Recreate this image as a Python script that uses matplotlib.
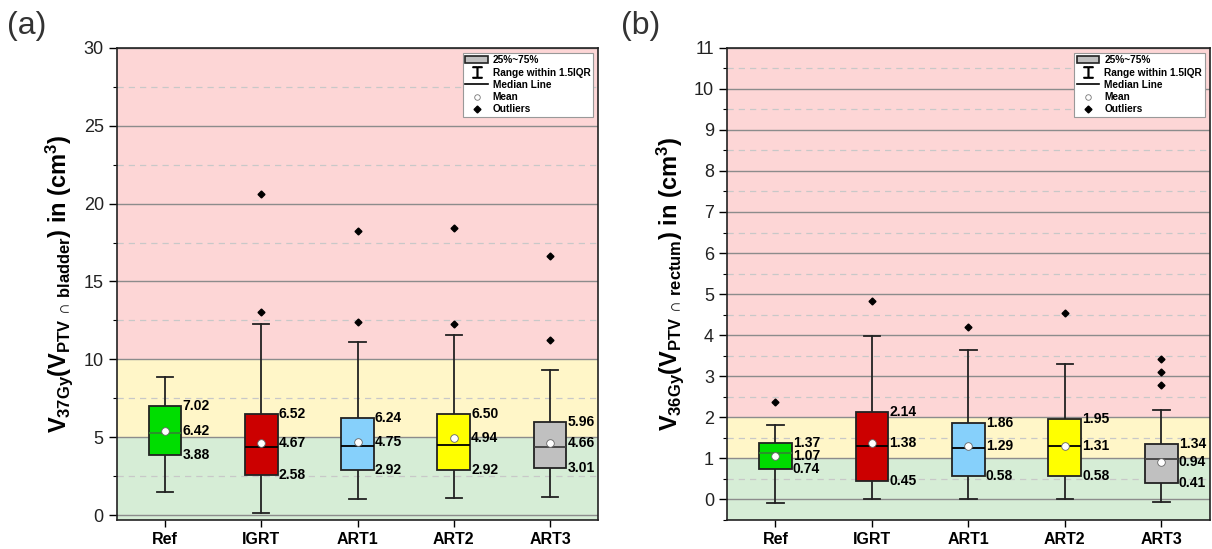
import matplotlib.pyplot as plt
from matplotlib.patches import Patch
from matplotlib.lines import Line2D
from matplotlib.ticker import MultipleLocator

plt.rcParams['font.family'] = ['Liberation Sans', 'DejaVu Sans']
plt.rcParams['mathtext.fontset'] = 'custom'
plt.rcParams['mathtext.rm'] = 'Liberation Sans:bold'
plt.rcParams['mathtext.it'] = 'Liberation Sans:bold'
plt.rcParams['mathtext.bf'] = 'Liberation Sans:bold'
plt.rcParams['mathtext.fallback'] = 'stixsans'

groups = ['Ref', 'IGRT', 'ART1', 'ART2', 'ART3']
box_colors = ['#00dd00', '#cc0000', '#86d0fb', '#ffff00', '#c0c0c0']
median_colors = ['#2e8b2e', '#000000', '#000000', '#000000', '#404040']

# panel (a): bladder, V37Gy
a_whislo = [1.50, 0.16, 1.06, 1.13, 1.18]
a_q1 = [3.88, 2.58, 2.92, 2.92, 3.01]
a_med = [5.28, 4.37, 4.46, 4.50, 4.35]
a_q3 = [7.02, 6.52, 6.24, 6.50, 5.96]
a_whishi = [8.90, 12.28, 11.13, 11.55, 9.35]
a_mean = [5.38, 4.64, 4.73, 4.94, 4.64]
a_fliers = [[], [13.05, 20.62], [12.37, 18.22], [12.28, 18.45], [11.25, 16.62]]
a_labels = [['7.02', '6.42', '3.88'], ['6.52', '4.67', '2.58'], ['6.24', '4.75', '2.92'],
            ['6.50', '4.94', '2.92'], ['5.96', '4.66', '3.01']]

# panel (b): rectum, V36Gy
b_whislo = [-0.10, 0.0, 0.0, 0.0, -0.06]
b_q1 = [0.74, 0.45, 0.58, 0.58, 0.41]
b_med = [1.13, 1.30, 1.26, 1.29, 0.99]
b_q3 = [1.37, 2.14, 1.86, 1.95, 1.34]
b_whishi = [1.82, 3.98, 3.65, 3.29, 2.18]
b_mean = [1.05, 1.38, 1.29, 1.31, 0.92]
b_fliers = [[2.36], [4.84], [4.19], [4.55], [2.78, 3.11, 3.41]]
b_labels = [['1.37', '1.07', '0.74'], ['2.14', '1.38', '0.45'], ['1.86', '1.29', '0.58'],
            ['1.95', '1.31', '0.58'], ['1.34', '0.94', '0.41']]

fig = plt.figure(figsize=(12.12, 5.49), dpi=100)
axa = fig.add_axes([0.0965, 0.053, 0.397, 0.860])
axb = fig.add_axes([0.600, 0.053, 0.398, 0.860])


def draw_panel(ax, whislo, q1, med, q3, whishi, mean, fliers, labels,
               ylim, bands, major, ylabel):
    # background zones
    ax.axhspan(ylim[0], bands[0], color='#d6edd6', zorder=0, lw=0)
    ax.axhspan(bands[0], bands[1], color='#fff6c8', zorder=0, lw=0)
    ax.axhspan(bands[1], ylim[1], color='#fdd6d6', zorder=0, lw=0)

    ax.yaxis.set_major_locator(MultipleLocator(major))
    ax.yaxis.set_minor_locator(MultipleLocator(major / 2))
    ax.grid(which='major', axis='y', color='#8c8c8c', lw=1.0, zorder=1)
    ax.grid(which='minor', axis='y', color='#c8c8c8', lw=0.9, ls=(0, (5, 4)), zorder=1)
    ax.set_axisbelow(True)

    stats = []
    for i in range(len(groups)):
        stats.append(dict(whislo=whislo[i], q1=q1[i], med=med[i], q3=q3[i],
                          whishi=whishi[i], mean=mean[i], fliers=fliers[i]))
    bp = ax.bxp(stats, positions=range(1, 6), widths=0.34, patch_artist=True,
                showmeans=True, capwidths=0.17,
                boxprops=dict(edgecolor='#222222', lw=1.3),
                whiskerprops=dict(color='#222222', lw=1.3),
                capprops=dict(color='#222222', lw=1.3),
                medianprops=dict(color='black', lw=1.3),
                meanprops=dict(marker='o', markerfacecolor='white', markeredgecolor='#666666',
                               markersize=5.5, markeredgewidth=0.6),
                flierprops=dict(marker='D', markerfacecolor='black', markeredgecolor='black',
                                markersize=3.5))
    for i, box in enumerate(bp['boxes']):
        box.set_facecolor(box_colors[i])
        box.set_zorder(3)
        bp['medians'][i].set_color(median_colors[i])
        bp['medians'][i].set_zorder(4)
        bp['means'][i].set_zorder(5)

    for i in range(len(groups)):
        x = i + 1 + 0.18
        for val, lab in zip([q3[i], mean[i], q1[i]], labels[i]):
            ax.text(x, val, lab, fontsize=10, fontweight='bold', va='center', ha='left',
                    zorder=6)

    ax.set_xlim(0.5, 5.5)
    ax.set_ylim(*ylim)
    ax.set_xticks(range(1, 6))
    ax.set_xticklabels(groups, fontsize=11.5, fontweight='bold')
    ax.tick_params(axis='y', which='major', labelsize=13, length=6, width=1, direction='out',
                   labelcolor='#222222')
    ax.tick_params(axis='y', which='minor', length=3, width=0.8, direction='out')
    ax.tick_params(axis='x', length=5, width=1)
    for s in ax.spines.values():
        s.set_color('#222222')
        s.set_linewidth(1.2)
    ax.set_ylabel(ylabel, fontsize=17, fontweight='bold', labelpad=6)

    handles = [Patch(facecolor='#c0c0c0', edgecolor='#222222', lw=1.2),
               Line2D([], [], color='black', marker='$\u2336$', ls='none', markersize=8),
               Line2D([], [], color='black', lw=1.2),
               Line2D([], [], marker='o', ls='none', markerfacecolor='white',
                      markeredgecolor='#777777', markersize=4, markeredgewidth=0.6),
               Line2D([], [], marker='D', ls='none', color='black', markersize=3.5)]
    names = ['25%~75%', 'Range within 1.5IQR', 'Median Line', 'Mean', 'Outliers']
    leg = ax.legend(handles, names, loc='upper right',
                    prop=dict(weight='bold', size=7.3), fancybox=False, framealpha=1,
                    edgecolor='#999999', borderpad=0.25, labelspacing=0.22,
                    handlelength=2.2, handletextpad=0.5, borderaxespad=0.5)
    leg.get_frame().set_linewidth(0.8)
    leg.set_zorder(10)


draw_panel(axa, a_whislo, a_q1, a_med, a_q3, a_whishi, a_mean, a_fliers, a_labels,
           (-0.3, 30), (5, 10), 5,
           r'$V_{37Gy}(V_{PTV\,\cap\,bladder})$ in (cm$^3$)')
draw_panel(axb, b_whislo, b_q1, b_med, b_q3, b_whishi, b_mean, b_fliers, b_labels,
           (-0.5, 11), (1, 2), 1,
           r'$V_{36Gy}(V_{PTV\,\cap\,rectum})$ in (cm$^3$)')

fig.text(0.006, 0.952, '(a)', fontsize=23, ha='left', va='center', color='#333333')
fig.text(0.512, 0.952, '(b)', fontsize=23, ha='left', va='center', color='#333333')

fig.savefig('out.png', dpi=100)
